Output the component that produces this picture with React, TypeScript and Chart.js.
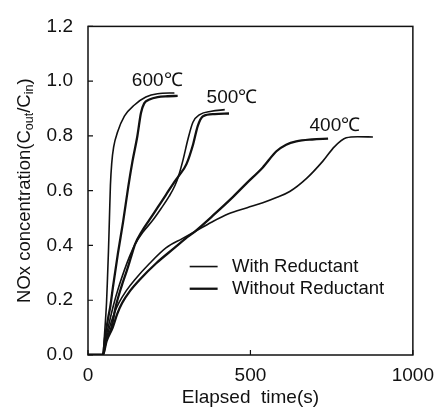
import React, { useEffect, useRef } from "react";
import { Chart, registerables } from "chart.js";

Chart.register(...registerables);

// ---- axis setup ----
const xMin = 0;
const xMax = 1000;
const xStep = 500;
const yMin = 0;
const yMax = 1.2;
const yStep = 0.2;
const xTitle = "Elapsed  time(s)";
const yTitleParts = ["NOx concentration(C", "out", "/C", "in", ")"];

// ---- series (elapsed time s, NOx Cout/Cin) ----
const t600With = [0, 46, 50, 54, 57, 60, 63, 66, 69, 73, 79, 91, 112, 143, 178, 214, 266];
const v600With = [0, 0, 0.06, 0.13, 0.19, 0.28, 0.38, 0.5, 0.62, 0.7, 0.76, 0.814, 0.872, 0.913, 0.942, 0.954, 0.957];

const t600Without = [0, 46, 52, 62, 69, 77, 92, 108, 124, 137, 152, 163, 173, 189, 214, 245, 276];
const v600Without = [0, 0, 0.06, 0.135, 0.18, 0.25, 0.37, 0.486, 0.615, 0.708, 0.8, 0.884, 0.919, 0.933, 0.942, 0.945, 0.946];

const t500With = [0, 46, 53, 62, 78, 95, 112, 128, 145, 170, 198, 225, 250, 268, 279, 292, 308, 323, 344, 380, 421];
const v500With = [0, 0, 0.05, 0.1, 0.18, 0.25, 0.31, 0.36, 0.405, 0.45, 0.49, 0.535, 0.58, 0.62, 0.655, 0.71, 0.79, 0.85, 0.878, 0.89, 0.896];

const t500Without = [0, 46, 55, 72, 86, 103, 120, 133, 145, 165, 190, 215, 240, 262, 280, 303, 323, 338, 354, 390, 434];
const v500Without = [0, 0, 0.05, 0.1, 0.18, 0.25, 0.31, 0.36, 0.405, 0.45, 0.495, 0.54, 0.585, 0.625, 0.655, 0.697, 0.767, 0.837, 0.872, 0.88, 0.882];

const t400With = [0, 46, 55, 66, 80, 95, 118, 144, 190, 241, 290, 328, 380, 431, 490, 538, 580, 621, 672, 723, 759, 795, 830, 877];
const v400With = [0, 0, 0.05, 0.1, 0.15, 0.19, 0.235, 0.275, 0.335, 0.392, 0.425, 0.45, 0.485, 0.515, 0.538, 0.556, 0.575, 0.597, 0.644, 0.708, 0.761, 0.793, 0.797, 0.796];

const t400Without = [0, 46, 57, 76, 90, 105, 130, 159, 210, 267, 300, 328, 390, 440, 487, 538, 580, 610, 641, 690, 739];
const v400Without = [0, 0, 0.05, 0.1, 0.15, 0.19, 0.235, 0.275, 0.335, 0.392, 0.425, 0.45, 0.515, 0.57, 0.626, 0.685, 0.744, 0.768, 0.78, 0.787, 0.79];

// ---- annotations (anchored in data units) ----
const tempLabels = ["600℃", "500℃", "400℃"];
const tempLabelT = [213, 443, 760];
const tempLabelV = [1.0, 0.939, 0.836];

const legendLabels = ["With Reductant", "Without Reductant"];
const legendLineT = [313, 399];
const legendTextT = 443;
const legendRowV = [0.323, 0.242];

const INK = "#111111";
const THIN = 1.6;
const THICK = 2.3;
const FONT = "'Liberation Sans', Arial, Helvetica, sans-serif";

function pts(t: number[], v: number[]) {
  return t.map((x, i) => ({ x, y: v[i] }));
}

function series(label: string, t: number[], v: number[], w: number) {
  return {
    label,
    data: pts(t, v),
    borderColor: INK,
    backgroundColor: INK,
    borderWidth: w,
    pointRadius: 0,
    fill: false,
    cubicInterpolationMode: "monotone" as const,
  };
}

const overlayPlugin = {
  id: "overlay",
  afterDraw(chart: any) {
    const { ctx, chartArea, scales } = chart;
    const xs = scales.x;
    const ys = scales.y;
    ctx.save();
    // frame
    ctx.strokeStyle = INK;
    ctx.lineWidth = 1.5;
    ctx.strokeRect(chartArea.left, chartArea.top, chartArea.right - chartArea.left, chartArea.bottom - chartArea.top);
    // inward ticks
    ctx.lineWidth = 1.2;
    ctx.beginPath();
    xs.ticks.forEach((tk: any) => {
      const px = xs.getPixelForValue(tk.value);
      ctx.moveTo(px, chartArea.bottom);
      ctx.lineTo(px, chartArea.bottom - 5);
    });
    ys.ticks.forEach((tk: any) => {
      const py = ys.getPixelForValue(tk.value);
      ctx.moveTo(chartArea.left, py);
      ctx.lineTo(chartArea.left + 5, py);
    });
    ctx.stroke();

    // temperature labels
    ctx.fillStyle = INK;
    ctx.font = `19px ${FONT}`;
    ctx.textAlign = "center";
    ctx.textBaseline = "middle";
    tempLabels.forEach((s, i) => {
      ctx.fillText(s, xs.getPixelForValue(tempLabelT[i]), ys.getPixelForValue(tempLabelV[i]));
    });

    // legend
    ctx.font = `18.5px ${FONT}`;
    ctx.textAlign = "left";
    legendLabels.forEach((s, i) => {
      const py = ys.getPixelForValue(legendRowV[i]);
      ctx.lineWidth = i === 0 ? THIN : THICK;
      ctx.beginPath();
      ctx.moveTo(xs.getPixelForValue(legendLineT[0]), py);
      ctx.lineTo(xs.getPixelForValue(legendLineT[1]), py);
      ctx.stroke();
      ctx.fillText(s, xs.getPixelForValue(legendTextT), py);
    });

    // y title with subscripts
    const big = `18.5px ${FONT}`;
    const small = `12.5px ${FONT}`;
    const fonts = [big, small, big, small, big];
    const shifts = [0, 5, 0, 5, 0];
    let total = 0;
    const widths = yTitleParts.map((p, i) => {
      ctx.font = fonts[i];
      const w = ctx.measureText(p).width;
      total += w;
      return w;
    });
    const cy = (chartArea.top + chartArea.bottom) / 2;
    ctx.translate(25, cy);
    ctx.rotate(-Math.PI / 2);
    ctx.textAlign = "left";
    ctx.textBaseline = "middle";
    let x = -total / 2;
    yTitleParts.forEach((p, i) => {
      ctx.font = fonts[i];
      ctx.fillText(p, x, shifts[i]);
      x += widths[i];
    });
    ctx.restore();
  },
};

export default function App() {
  const canvasRef = useRef<HTMLCanvasElement | null>(null);

  useEffect(() => {
    document.body.style.margin = "0";
    const canvas = canvasRef.current;
    if (!canvas) return;
    const chart = new Chart(canvas, {
      type: "line",
      data: {
        datasets: [
          series("600℃ With Reductant", t600With, v600With, THIN),
          series("600℃ Without Reductant", t600Without, v600Without, THICK),
          series("500℃ With Reductant", t500With, v500With, THIN),
          series("500℃ Without Reductant", t500Without, v500Without, THICK),
          series("400℃ With Reductant", t400With, v400With, THIN),
          series("400℃ Without Reductant", t400Without, v400Without, THICK),
        ],
      },
      options: {
        responsive: false,
        animation: false,
        devicePixelRatio: 1,
        layout: { padding: { left: 0, top: 13, right: 30, bottom: 0 } },
        plugins: { legend: { display: false }, tooltip: { enabled: false } },
        scales: {
          x: {
            type: "linear",
            min: xMin,
            max: xMax,
            grid: { display: false, drawTicks: false },
            border: { display: false },
            ticks: {
              stepSize: xStep,
              padding: 9,
              color: INK,
              font: { family: FONT, size: 19 },
              maxRotation: 0,
              callback: (v: any) => String(v),
            },
            title: {
              display: true,
              text: xTitle,
              color: INK,
              font: { family: FONT, size: 19 },
              padding: { top: 0, bottom: 6 },
            },
            afterFit: (s: any) => {
              s.height = 60;
            },
          },
          y: {
            type: "linear",
            min: yMin,
            max: yMax,
            grid: { display: false, drawTicks: false },
            border: { display: false },
            ticks: {
              stepSize: yStep,
              padding: 15,
              color: INK,
              font: { family: FONT, size: 19 },
              callback: (v: any) => Number(v).toFixed(1),
            },
            afterFit: (s: any) => {
              s.width = 88;
            },
          },
        },
      },
      plugins: [overlayPlugin],
    });
    return () => chart.destroy();
  }, []);

  return (
    <div style={{ width: 443, height: 415, background: "#fff" }}>
      <canvas ref={canvasRef} width={443} height={415} style={{ display: "block" }} />
    </div>
  );
}
